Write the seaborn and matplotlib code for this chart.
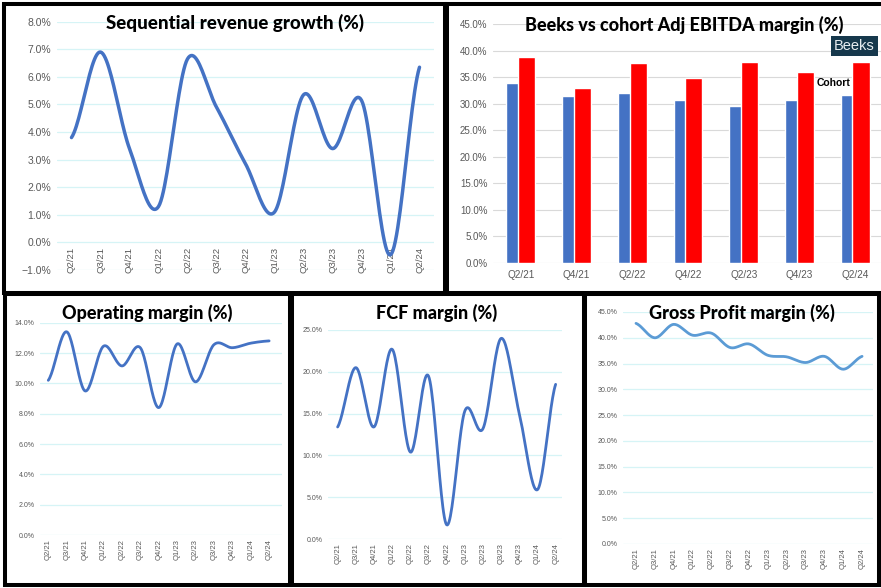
import numpy as np
import pandas as pd
import matplotlib
matplotlib.use('Agg')
import matplotlib.pyplot as plt
from matplotlib.patches import Rectangle
from matplotlib.ticker import PercentFormatter
import seaborn as sns

# quarters for the line charts
quarters = ['Q2/21', 'Q3/21', 'Q4/21', 'Q1/22', 'Q2/22', 'Q3/22', 'Q4/22',
            'Q1/23', 'Q2/23', 'Q3/23', 'Q4/23', 'Q1/24', 'Q2/24']
seq_growth = [3.8, 6.9, 3.4, 1.3, 6.65, 4.9, 2.85, 1.1, 5.35, 3.4, 5.15, -0.45, 6.35]
op_margin = [10.2, 13.4, 9.5, 12.45, 11.15, 12.35, 8.4, 12.6, 10.1, 12.55, 12.35, 12.65, 12.8]
fcf_margin = [13.4, 20.5, 13.4, 22.7, 10.4, 19.5, 1.7, 15.3, 13.2, 24.0, 15.0, 5.9, 18.5]
gp_margin = [42.8, 40.0, 42.6, 40.5, 40.9, 38.1, 38.8, 36.6, 36.3, 35.2, 36.4, 33.9, 36.4]

# half-yearly quarters for the EBITDA bars
bar_quarters = ['Q2/21', 'Q4/21', 'Q2/22', 'Q4/22', 'Q2/23', 'Q4/23', 'Q2/24']
beeks_ebitda = [33.8, 31.5, 32.0, 30.6, 29.6, 30.7, 31.6]
cohort_ebitda = [38.7, 32.9, 37.6, 34.9, 37.9, 36.0, 37.9]

W, H = 881, 588
BLUE = '#4472C4'
GRID_CYAN = '#d6f4f6'
TICK_GRAY = '#595959'

sns.set_style('white')
plt.rcParams['font.family'] = ['Liberation Sans', 'DejaVu Sans']


def box(x0, y0, x1, y1):
    # pixel box (y from top) -> figure fraction rect
    return [x0 / W, 1 - y1 / H, (x1 - x0) / W, (y1 - y0) / H]


def smooth(vals, n=24):
    # excel-like smoothed line (catmull-rom style bezier between points)
    p = np.array(vals, dtype=float)
    xs, ys = [], []
    for i in range(len(p) - 1):
        p0 = p[i - 1] if i > 0 else p[i]
        p3 = p[i + 2] if i + 2 < len(p) else p[i + 1]
        c1 = p[i] + (p[i + 1] - p0) / 6
        c2 = p[i + 1] - (p3 - p[i]) / 6
        t = np.linspace(0, 1, n, endpoint=False)
        b = ((1 - t) ** 3 * p[i] + 3 * (1 - t) ** 2 * t * c1
             + 3 * (1 - t) * t ** 2 * c2 + t ** 3 * p[i + 1])
        xs.extend(i + t)
        ys.extend(b)
    xs.append(len(p) - 1)
    ys.append(p[-1])
    return np.array(xs), np.array(ys)


def line_panel(ax, vals, ylim, ystep, xlim, color, lw, ysize, xsize, decimals=1, cross=None):
    xs, ys = smooth(vals)
    sns.lineplot(x=xs, y=ys, ax=ax, color=color, linewidth=lw, sort=False, estimator=None)
    if cross is not None:
        # category axis crosses at this value (labels hang from it)
        ax.spines['bottom'].set_position(('data', cross))
    ax.set_xlim(*xlim)
    ax.set_ylim(*ylim)
    ax.set_yticks(np.arange(ylim[0], ylim[1] + 0.01, ystep))
    ax.yaxis.set_major_formatter(PercentFormatter(decimals=decimals))
    ax.set_xticks(range(len(quarters)))
    ax.set_xticklabels(quarters)
    ax.tick_params(axis='x', labelrotation=90)
    ax.tick_params(axis='y', labelsize=ysize, colors=TICK_GRAY, length=0, pad=4)
    ax.tick_params(axis='x', labelsize=xsize, colors=TICK_GRAY, length=0, pad=3)
    ax.grid(axis='y', color=GRID_CYAN, linewidth=0.9)
    ax.set_axisbelow(True)
    for s in ax.spines.values():
        s.set_visible(False)
    ax.set_xlabel('')
    ax.set_ylabel('')


fig = plt.figure(figsize=(W / 100, H / 100), dpi=100)
fig.patch.set_facecolor('white')

# top-left: sequential revenue growth
ax1 = fig.add_axes(box(57, 21.7, 434, 270))
line_panel(ax1, seq_growth, (-1, 8), 1, (-0.5, 12.5), BLUE, 2.5, 7.5, 6.8, cross=0)

# top-right: beeks vs cohort bars
ax2 = fig.add_axes(box(493, 24, 883, 263))
pos = np.arange(len(bar_quarters))
sns.barplot(x=pos - 0.105, y=beeks_ebitda, native_scale=True, width=0.31,
            color=BLUE, saturation=1, ax=ax2)
sns.barplot(x=pos + 0.105, y=cohort_ebitda, native_scale=True, width=0.31,
            color='#FF0000', saturation=1, ax=ax2)
ax2.set_xlim(-0.5, 6.5)
ax2.set_ylim(0, 45)
ax2.set_yticks(np.arange(0, 45.1, 5))
ax2.yaxis.set_major_formatter(PercentFormatter(decimals=1))
ax2.set_xticks(pos)
ax2.set_xticklabels(bar_quarters)
ax2.tick_params(axis='y', labelsize=7, colors=TICK_GRAY, length=0, pad=4)
ax2.tick_params(axis='x', labelsize=7.2, colors=TICK_GRAY, length=0, pad=5)
ax2.grid(axis='y', color='#d9d9d9', linewidth=0.8)
ax2.set_axisbelow(True)
for s in ax2.spines.values():
    s.set_visible(False)

# bottom row
ax3 = fig.add_axes(box(40, 322.7, 282, 535))
line_panel(ax3, op_margin, (0, 14), 2, (-0.45, 12.7), BLUE, 2.0, 5, 5.5)
ax4 = fig.add_axes(box(328, 330, 562, 539))
line_panel(ax4, fcf_margin, (0, 25), 5, (-0.53, 12.35), BLUE, 2.0, 5, 5.5)
ax5 = fig.add_axes(box(623, 312, 873, 544))
line_panel(ax5, gp_margin, (0, 45), 5, (-0.69, 12.58), '#5B9BD5', 2.0, 5, 5.5)

# titles
title_kw = dict(ha='center', va='center', fontweight='black', color='black',
                family=['Lato', 'DejaVu Sans'])
fig.text(235 / W, 1 - 23 / H, 'Sequential revenue growth (%)', fontsize=13.5, **title_kw)
fig.text(684 / W, 1 - 25 / H, 'Beeks vs cohort Adj EBITDA margin (%)', fontsize=13, **title_kw)
fig.text(147 / W, 1 - 313 / H, 'Operating margin (%)', fontsize=13, **title_kw)
fig.text(437 / W, 1 - 313 / H, 'FCF margin (%)', fontsize=13, **title_kw)
fig.text(742 / W, 1 - 313 / H, 'Gross Profit margin (%)', fontsize=13, **title_kw)

# series labels on the bar chart
fig.text(834 / W, 1 - 46 / H, 'Beeks', fontsize=10.5, color='#e8eef2', ha='left', va='center',
         bbox=dict(boxstyle='square,pad=0.2', facecolor='#16384c', edgecolor='none'))
fig.text(817 / W, 1 - 83 / H, 'Cohort', fontsize=7.5, fontweight='bold', color='black',
         ha='left', va='center')

# black panel frames
lw = 2.9
for x0, y0, x1, y1 in [(4, 4, 445, 293), (447, 4, 884, 293),
                       (5, 294, 290, 585), (292, 294, 584, 585), (585, 294, 879, 585)]:
    fig.add_artist(Rectangle((x0 / W, 1 - y1 / H), (x1 - x0) / W, (y1 - y0) / H,
                             transform=fig.transFigure, fill=False,
                             edgecolor='black', linewidth=lw))

fig.savefig('out.png', dpi=100, facecolor='white')
